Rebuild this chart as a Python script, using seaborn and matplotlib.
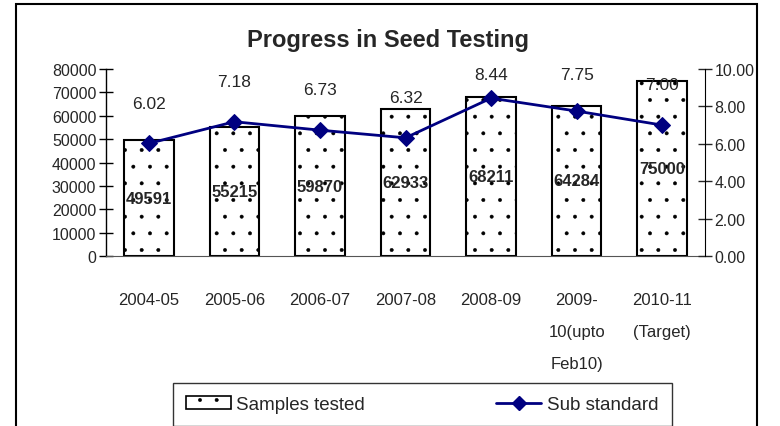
import numpy as np
import pandas as pd
import matplotlib
matplotlib.use("Agg")
import matplotlib.pyplot as plt
import seaborn as sns
from matplotlib.patches import Rectangle, Patch
from matplotlib.lines import Line2D

years = ["2004-05", "2005-06", "2006-07", "2007-08", "2008-09",
         "2009-\n10(upto\nFeb10)", "2010-11\n(Target)"]
samples_tested = [49591, 55215, 59870, 62933, 68211, 64284, 75000]
sub_standard = [6.02, 7.18, 6.73, 6.32, 8.44, 7.75, 7.00]

sns.set_style("white")
plt.rcParams["font.family"] = ["Liberation Sans Narrow", "Liberation Sans", "DejaVu Sans"]
plt.rcParams["hatch.linewidth"] = 0.35

df = pd.DataFrame({"year": years, "samples": samples_tested,
                   "sub": sub_standard, "pos": np.arange(len(years))})

fig = plt.figure(figsize=(7.8, 4.27), dpi=100)
ax = fig.add_axes([106 / 780, 1 - 257 / 427, 599 / 780, 187 / 427])

# bars for samples tested
sns.barplot(data=df, x="year", y="samples", ax=ax, color="white",
            edgecolor="black", linewidth=1.5, width=0.58, saturation=1)
for p in ax.patches:
    p.set_hatch(".")
ax.set_xlim(-0.5, len(years) - 0.5)
ax.set_ylim(0, 80000)
ax.set_yticks(np.arange(0, 80001, 10000))
ax.set_xlabel("")
ax.set_ylabel("")
ax.set_xticks(np.arange(len(years) + 1) - 0.5, minor=False)
ax.set_xticklabels([])
ax.set_xticks(np.arange(len(years)), minor=True)
ax.set_xticklabels(years, minor=True, fontsize=12, linespacing=2.4)
ax.tick_params(axis="x", which="major", direction="inout", length=10, width=1, color="#333333")
ax.tick_params(axis="x", which="minor", length=0, pad=26)
ax.tick_params(axis="y", direction="inout", length=10, width=1, labelsize=11.5, pad=2, color="black")
for s in ["top", "right"]:
    ax.spines[s].set_visible(False)
ax.spines["left"].set_color("black")
ax.spines["bottom"].set_color("#555555")
ax.spines["left"].set_linewidth(1)

for i, v in enumerate(samples_tested):
    ax.text(i, v / 2, str(v), ha="center", va="center", fontsize=12,
            fontweight="bold")

# sub standard line on secondary axis
ax2 = ax.twinx()
sns.lineplot(data=df, x="pos", y="sub", ax=ax2, color="#000080", linewidth=2,
             marker="D", markersize=8, markeredgecolor="#000080")
ax2.set_ylim(0, 10)
ax2.set_yticks(np.arange(0, 10.01, 2))
ax2.set_yticklabels([f"{t:.2f}" for t in np.arange(0, 10.01, 2)])
ax2.set_xlim(-0.5, len(years) - 0.5)
ax2.set_xlabel("")
ax2.set_ylabel("")
ax2.tick_params(axis="y", direction="inout", length=10, width=1, labelsize=11.5, pad=2)
for s in ["top", "left", "bottom"]:
    ax2.spines[s].set_visible(False)
ax2.spines["right"].set_color("black")
for i, v in enumerate(sub_standard):
    ax2.text(i, min(v + 2.15, 9.73), f"{v:.2f}", ha="center", va="center", fontsize=12.5)

fig.text(388 / 780, 1 - 40 / 427, "Progress in Seed Testing", ha="center",
         va="center", fontsize=17, fontweight="bold")

handles = [Patch(facecolor="white", edgecolor="black", hatch=".", linewidth=1.2),
           Line2D([0], [0], color="#000080", linewidth=2, marker="D", markersize=7)]
leg = fig.legend(handles, ["Samples tested", "Sub standard"], loc="upper center",
                 bbox_to_anchor=(422 / 780, 1 - 384 / 427), ncol=2, fontsize=13.5,
                 frameon=True, fancybox=False, edgecolor="black", columnspacing=7.0,
                 handlelength=2.4, handletextpad=0.3, borderpad=0.7, borderaxespad=0)
leg.get_frame().set_linewidth(1)

fig.patches.append(Rectangle((16 / 780, -0.1), 741 / 780, 1.1 - 5 / 427,
                             transform=fig.transFigure, fill=False,
                             edgecolor="black", linewidth=1.5))

fig.savefig("out.png", dpi=100)
